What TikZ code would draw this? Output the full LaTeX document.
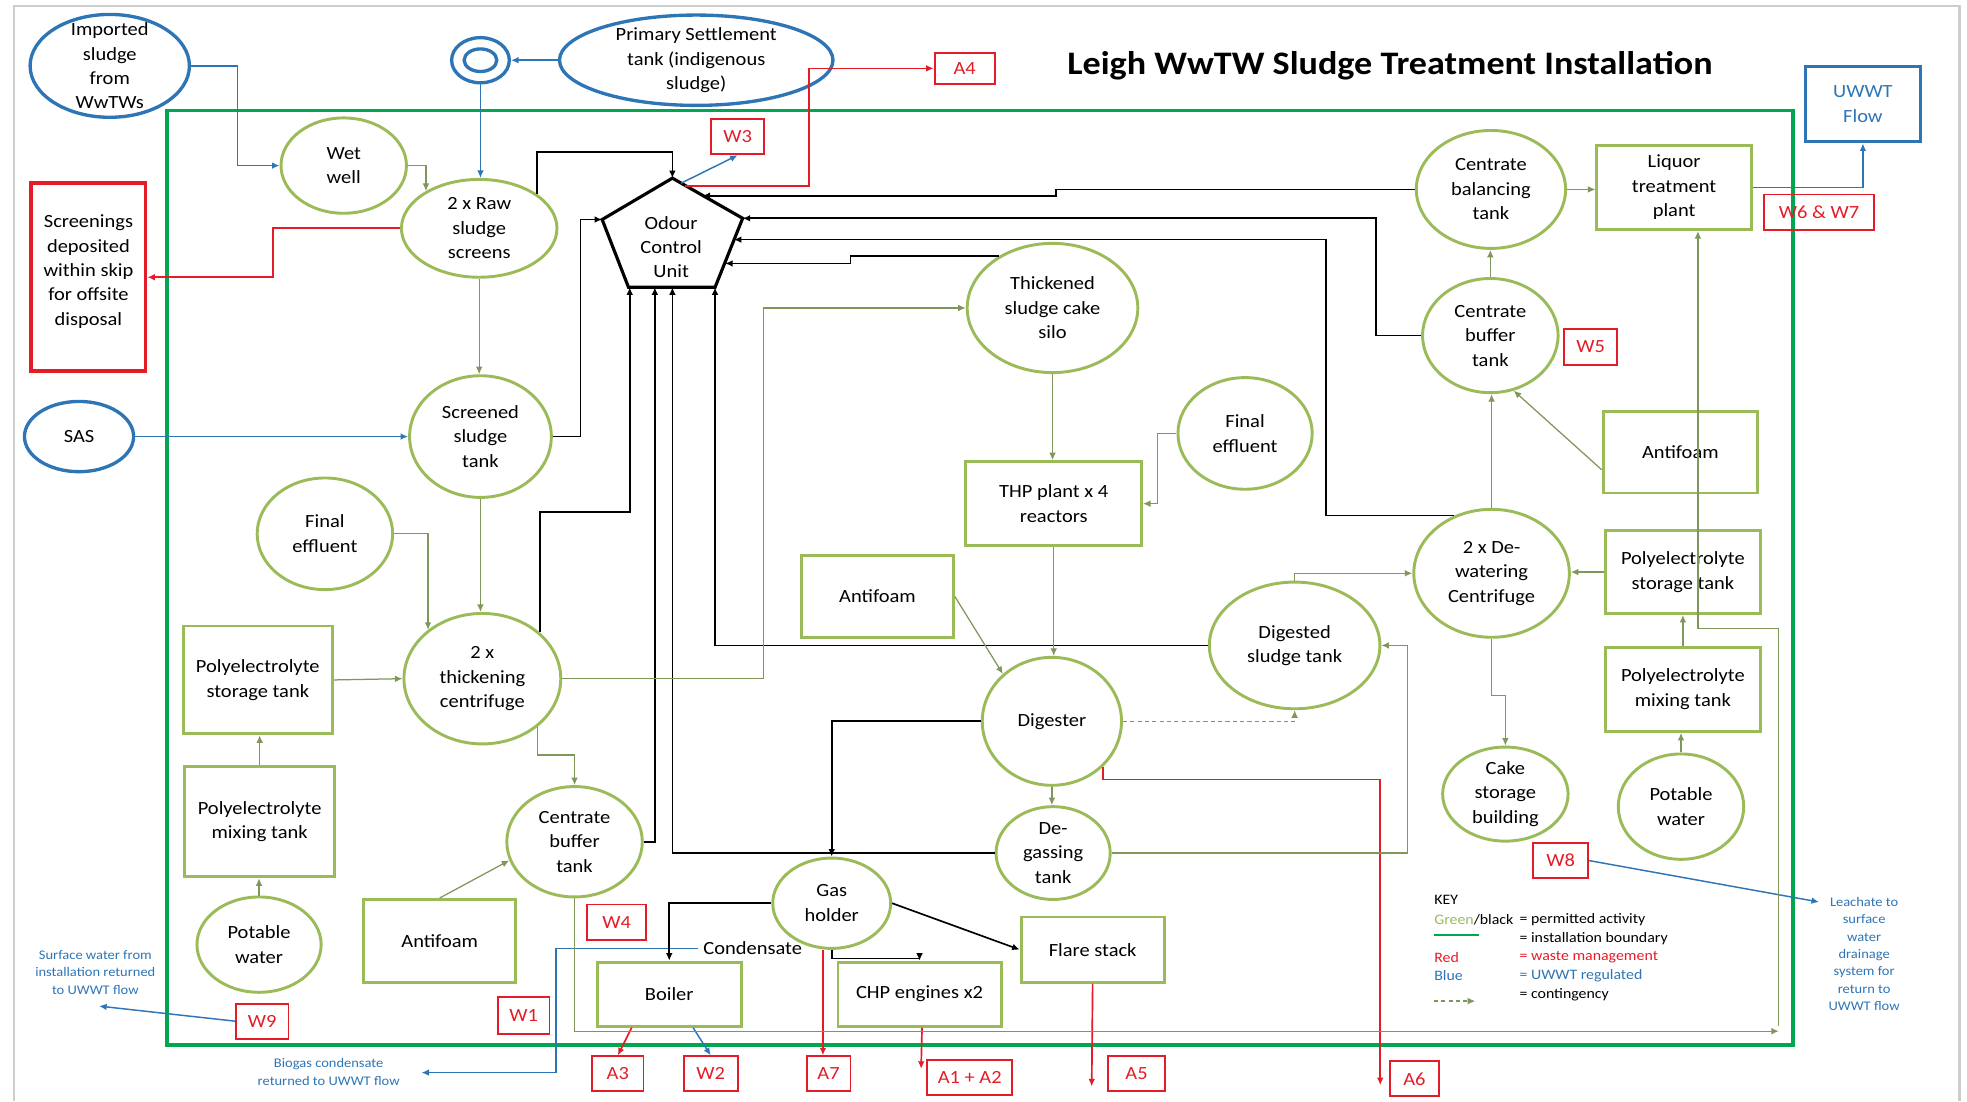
\documentclass[tikz,border=0pt]{standalone}
\usepackage{fontspec}
\setmainfont{Carlito}[FakeStretch=1.1]
\usetikzlibrary{arrows.meta,shapes.geometric,calc}
\definecolor{olv}{RGB}{155,187,89}
\definecolor{oln}{RGB}{128,150,90}
\definecolor{bnd}{RGB}{0,166,80}
\definecolor{blu}{RGB}{46,117,182}
\definecolor{rd}{RGB}{228,28,40}
\definecolor{frm}{RGB}{205,205,205}
\newcommand\Nd[6]{\node[#1,wh={#4}{#5}] (#2) at (#3) {};\node[txt] (#2t) at (#2.center) {#6};}
\begin{document}
\begin{tikzpicture}[x=0.6pt,y=-0.6pt,
  wh/.style 2 args={minimum width={(#1)*0.6pt},minimum height={(#2)*0.6pt}},
  txt/.style={align=center,inner sep=0pt,font=\fontsize{8.9}{11.7}\selectfont},
  ge/.style={ellipse,draw=olv,line width=1.4pt,inner sep=0pt},
  gr/.style={rectangle,draw=olv,line width=1.4pt,inner sep=0pt},
  be/.style={ellipse,draw=blu,line width=1.6pt,inner sep=0pt},
  rb/.style={rectangle,draw=rd,line width=0.9pt,inner sep=0pt,text=rd,font=\fontsize{8.9}{11.7}\selectfont},
  tip/.style={-{Latex[length=3.6pt,width=3.2pt]}},
  gl/.style={draw=oln,line width=0.6pt,tip},
  kl/.style={draw=black,line width=0.8pt,tip},
  bl/.style={draw=blu,line width=0.7pt,tip},
  rl/.style={draw=rd,line width=0.8pt,tip},
  sm/.style={align=center,inner sep=0pt,text=blu,font=\fontsize{6.3}{8.3}\selectfont},
  ky/.style={anchor=west,inner sep=0pt,font=\fontsize{6.9}{9}\selectfont},
]
\useasboundingbox (0,0) rectangle (1568,878);
\draw[frm,line width=1pt] (11,878) -- (11,5) -- (1562,5) -- (1562,878);
% installation boundary
\draw[bnd,line width=1.8pt] (133,88) rectangle (1429,833);
% title
\node[anchor=base,inner sep=0pt,font=\fontsize{15.7}{18}\selectfont\bfseries] (title) at (1108,59) {Leigh WwTW Sludge Treatment Installation};

% blue external sources
\Nd{be}{imp}{87.5,52.5}{127}{82}{Imported\\sludge\\from\\WwTWs}
\node[be,wh={46}{36}] (dbl) at (383,48) {};
\node[be,wh={26}{18}] (dbli) at (383,48) {};
\Nd{be}{pst}{555,48}{218}{72}{Primary Settlement\\tank (indigenous\\sludge)}
\Nd{be}{sas}{63,348}{87}{56}{SAS}
\node[draw=blu,line width=1.6pt,wh={92}{60},txt,text=blu] (uwwt) at (1485,83) {UWWT\\Flow};

% screenings skip
\node[draw=rd,line width=1.8pt,wh={91}{150}] (scrn) at (70.5,221) {};
\node[txt] (scrnt) at (70.5,216.5) {Screenings\\deposited\\within skip\\for offsite\\disposal};

% green ellipses
\Nd{ge}{wet}{274,132}{100}{76}{Wet\\well}
\Nd{ge}{scr}{382,182}{124}{78}{2 x Raw\\sludge\\screens}
\Nd{ge}{sst}{383,348}{113}{97}{Screened\\sludge\\tank}
\Nd{ge}{fe1}{259,425.5}{108}{89}{Final\\effluent}
\Nd{ge}{thk}{384.5,541}{125}{104}{2 x\\thickening\\centrifuge}
\Nd{ge}{cbt1}{458,671}{108}{88}{Centrate\\buffer\\tank}
\Nd{ge}{pw1}{206.5,753}{99}{76}{Potable\\water}
\Nd{ge}{silo}{839,245.5}{136}{103}{Thickened\\sludge cake\\silo}
\Nd{ge}{fe2}{992.5,345.5}{107}{89}{Final\\effluent}
\Nd{ge}{dst}{1032,514.5}{136}{101}{Digested\\sludge tank}
\Nd{ge}{dig}{838.5,575}{111}{102}{Digester}
\Nd{ge}{deg}{839.5,680}{91}{74}{De-\\gassing\\tank}
\Nd{ge}{gas}{663,720}{94}{72}{Gas\\holder}
\Nd{ge}{cbal}{1188.5,151}{119}{94}{Centrate\\balancing\\tank}
\Nd{ge}{cbt2}{1188,267.5}{108}{91}{Centrate\\buffer\\tank}
\Nd{ge}{dwc}{1189,457}{124}{102}{2 x De-\\watering\\Centrifuge}
\Nd{ge}{cake}{1200,633}{100}{75}{Cake\\storage\\building}
\Nd{ge}{pw2}{1340,643}{100}{84}{Potable\\water}

% green boxes
\Nd{gr}{pes1}{205.5,542}{119}{86}{Polyelectrolyte\\storage tank}
\Nd{gr}{pmt1}{207,655}{120}{88}{Polyelectrolyte\\mixing tank}
\Nd{gr}{af1}{350.5,750}{121}{66}{Antifoam}
\Nd{gr}{af2}{699.5,475.5}{121}{65}{Antifoam}
\Nd{gr}{thp}{840,401.5}{140}{67}{THP plant x 4\\reactors}
\Nd{gr}{boil}{533.5,792.5}{115}{51}{Boiler}
\Nd{gr}{chp}{733,792.5}{130}{51}{CHP engines x2}
\Nd{gr}{flare}{871,757}{114}{52}{Flare stack}
\Nd{gr}{ltp}{1334.5,149.5}{123}{67}{Liquor\\treatment\\plant}
\Nd{gr}{af3}{1339.5,360.5}{123}{65}{Antifoam}
\Nd{gr}{pes2}{1341.5,456}{123}{66}{Polyelectrolyte\\storage tank}
\Nd{gr}{pmt2}{1341.5,549.5}{123}{67}{Polyelectrolyte\\mixing tank}

% odour control unit
\coordinate (ocuT) at (536,142);
\coordinate (ocuR) at (592,174);
\coordinate (ocuBR) at (570,229);
\coordinate (ocuBL) at (501,229);
\coordinate (ocuL) at (480,175);
\draw[line width=1.5pt,line join=miter] (ocuT) -- (ocuR) -- (ocuBR) -- (ocuBL) -- (ocuL) -- cycle;
\node[txt] (ocu) at (535,197) {Odour\\Control\\Unit};
\coordinate (ocuB1) at (502,229);
\coordinate (ocuB2) at (522,229);
\coordinate (ocuB3) at (536,229);
\coordinate (ocuB4) at (570,229);
\coordinate (ocuR1) at (560,156);
\coordinate (ocuR2) at (585,191);
\coordinate (ocuR3) at (578,210);
\coordinate (ocuA) at (546,148);
\coordinate (ocuW) at (543,146);

% red labels
\node[rb,wh={48}{25}] (a4) at (769,54.5) {A4};
\node[rb,wh={42}{28}] (w3) at (588,109) {W3};
\node[rb,wh={42}{29}] (w5) at (1268,276.5) {W5};
\node[rb,wh={88}{28}] (w67) at (1450,169) {W6 \& W7};
\node[rb,wh={47}{28}] (w4) at (491.5,735) {W4};
\node[rb,wh={41}{29}] (w1) at (417.5,809.5) {W1};
\node[rb,wh={42}{28}] (w9) at (209,814) {W9};
\node[rb,wh={41}{28}] (a3) at (492.5,856) {A3};
\node[rb,wh={43}{28}] (w2) at (566.5,856) {W2};
\node[rb,wh={35}{28}] (a7) at (660.5,856) {A7};
\node[rb,wh={68}{28}] (a12) at (773,859) {A1 + A2};
\node[rb,wh={46}{28}] (a5) at (906,856) {A5};
\node[rb,wh={39}{28}] (a6) at (1127.5,860) {A6};
\node[rb,wh={44}{28}] (w8) at (1244,686) {W8};

% free texts
\node[txt] (cond) at (600,756) {Condensate};
\node[sm] (surf) at (76,775) {Surface water from\\installation returned\\to UWWT flow};
\node[sm] (bio) at (262,854.5) {Biogas condensate\\returned to UWWT flow};
\node[sm] (leach) at (1486,760.5) {Leachate to\\surface\\water\\drainage\\system for\\return to\\UWWT flow};
\coordinate (bioin) at (336,855);
\coordinate (surfin) at (79,802);
\coordinate (leachin) at (1450,719);
\coordinate (corner) at (1418,822);

% blue connectors
\draw[bl] (imp.east) -- ++(37,0) |- (wet.west);
\draw[bl] (pst.west) -- (dbl.east);
\draw[bl] (dbl.south) -- (dbl.south |- scr.north);
\draw[bl] (sas.east) -- (sst.west);
\draw[bl] (ocuW) -- (w3.south);
\draw[bl] (ltp.east) -| (uwwt.south);
\draw[bl] (w8.east) -- (leachin);
\draw[bl] (w9.west) -- (surfin);
\draw[bl] ($(cond.west)+(-4,0)$) -- ++(-113,0) |- (bioin);
\draw[bl] ($(boil.south)+(19,0)$) -- (w2.north);

% red connectors
\draw[rl] (scr.west) -- ++(-101,0) |- (scrn.east);
\draw[rl] (ocuA) -- (645,148) |- (a4.west);
\draw[rl] (dig.-42) -- ++(0,10) -| ($(a6.west)+(-7,5)$);
\draw[rl] ($(boil.south)+(-30,0)$) -- (a3.north);
\draw[rl] ($(gas.south)+(-7,0)$) -- ($(a7.north)+(-4.5,0)$);
\draw[rl] ($(chp.south)+(2,0)$) -- ($(a12.west)+(-4,-7)$);
\draw[rl] (flare.south) -- ($(a5.west)+(-12,10)$);

% black connectors
\draw[kl] (scr.31) |- ($(ocuT)+(0,-21)$) -- (ocuT);
\draw[kl] (sst.east) -- ++(22,0) |- (ocuL);
\draw[kl] (thk.39) |- ($(ocuB1)+(0,179)$) -- (ocuB1);
\draw[kl] (cbt1.east) -| (ocuB2);
\draw[kl] (deg.west) -| (ocuB3);
\draw[kl] (dst.west) -| (ocuB4);
\draw[kl] (dig.west) -| (gas.north);
\draw[kl] (gas.west) -| (boil.north);
\draw[kl] (gas.south) -- ++(0,7) -| (chp.north);
\draw[kl] (gas.east) -- (flare.west);
\draw[kl] (cbal.west) -- (842,151) |- (ocuR1);
\draw[kl] (cbt2.west) -- (1097,267.5) |- (ocuR);
\draw[kl] (dwc.123) -| ($(ocuR2)+(472,0)$) -- (ocuR2);
\draw[kl] (silo.136) -| ($(ocuR3)+(100,0)$) -- (ocuR3);

% green connectors
\draw[gl] (wet.east) -| (scr.145);
\draw[gl] (scr.south) -- (scr.south |- sst.north);
\draw[gl] (sst.south) -- (sst.south |- thk.north);
\draw[gl] (fe1.east) -| (thk.138);
\draw[gl] (pes1.east) -- (thk.west);
\draw[gl] (pmt1.north) -- (pmt1.north |- pes1.south);
\draw[gl] (pw1.north) -- (pw1.north |- pmt1.south);
\draw[gl] (af1.north) -- (cbt1.196);
\draw[gl] (thk.-41) |- ($(cbt1.north)+(0,-24)$) -- (cbt1.north);
\draw[gl] (thk.east) -| ($(silo.west)+(-161,0)$) -- (silo.west);
\draw[gl] (silo.south) -- (silo.south |- thp.north);
\draw[gl] (fe2.west) -- ++(-15,0) |- (thp.east);
\draw[gl] (thp.south) -- (thp.south |- dig.north);
\draw[gl] (af2.east) -- (dig.136);
\draw[gl] (dig.south) -- (dig.south |- deg.north);
\draw[gl,dash pattern=on 2pt off 1.5pt] (dig.east) -| (dst.south);
\draw[gl] (deg.east) -- ++(236,0) |- (dst.east);
\draw[gl] (dst.north) |- (dwc.west);
\draw[gl] (dwc.north) -- (dwc.north |- cbt2.south);
\draw[gl] ($(af3.west)+(0,14)$) -- (cbt2.-67);
\draw[gl] (pes2.west) -- (pes2.west -| dwc.east);
\draw[gl] (pmt2.north) -- (pes2.south);
\draw[gl] (pw2.north) -- (pw2.north |- pmt2.south);
\draw[gl] (dwc.south) -- ++(0,45) -| (cake.north);
\draw[gl] (cbt2.north) -- (cbt2.north |- cbal.south);
\draw[gl] (cbal.east) -- (cbal.east -| ltp.west);
\draw[gl] (cbt1.south) |- (corner);
\draw[gl] ($(corner)+(0,-4)$) -- ($(corner)+(0,-321)$) -| ($(ltp.south)+(19,0)$);

% key
\node[ky] (keyh) at (1143,717) {KEY};
\node[ky] (k1) at (1143,733) {\textcolor{olv}{Green}/black};
\node[ky] (k1b) at (1211,733) {= permitted activity};
\draw[bnd,line width=0.9pt] (1143,745) -- (1179,745);
\node[ky] (k2) at (1211,748) {= installation boundary};
\node[ky,text=rd] (k3) at (1143,763) {Red};
\node[ky,text=rd] (k3b) at (1211,763) {= waste management};
\node[ky,text=blu] (k4) at (1143,778) {Blue};
\node[ky,text=blu] (k4b) at (1211,778) {= UWWT regulated};
\node[ky] (k5) at (1211,793) {= contingency};
\draw[gl,dash pattern=on 2pt off 1.5pt] (1143,798) -- (1176,798);
\end{tikzpicture}
\end{document}
